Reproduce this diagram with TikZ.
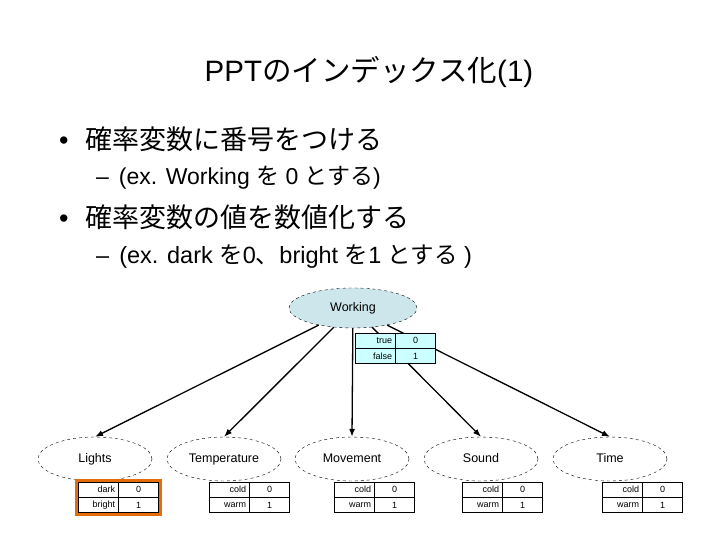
\documentclass[tikz,border=0pt]{standalone}
\usepackage{fontspec}
\setmainfont{Liberation Sans}
\newfontfamily\jpfont{Noto Sans CJK JP}
\usetikzlibrary{shapes.geometric,arrows.meta,positioning}

\definecolor{workfill}{RGB}{205,230,235}
\definecolor{cellfill}{RGB}{204,255,255}
\definecolor{markorange}{RGB}{228,108,10}

\tikzset{
  varnode/.style={ellipse,draw,dashed,fill=white,minimum width=114pt,minimum height=44pt,inner sep=0pt,text height=9pt,text depth=2.5pt,font=\fontsize{12.5}{14}\selectfont},
  namecell/.style={draw,fill=white,minimum width=40pt,minimum height=15pt,text width=34pt,align=right,inner sep=3pt,font=\fontsize{9}{10}\selectfont},
  valcell/.style={draw,fill=white,minimum width=40pt,minimum height=15pt,inner sep=0pt,font=\fontsize{9}{10}\selectfont},
  link/.style={line width=1.3pt,-{Latex[length=8pt,width=6pt]}}
}

\begin{document}
\begin{tikzpicture}[x=1pt,y=-1pt]
\useasboundingbox (0,0) rectangle (720,540);

% text of the slide
\node[anchor=base,inner sep=0pt,font=\fontsize{29.5}{34}\selectfont] (title) at (369,82) {PPT{\jpfont のインデックス化}(1)};
\node[anchor=base west,inner sep=0pt,font=\fontsize{27}{30}\selectfont] (item1) at (59,150) {\textbullet\hspace{17pt}{\jpfont 確率変数に番号をつける}};
\node[anchor=base west,inner sep=0pt,font=\fontsize{23}{25}\selectfont] (sub1) at (96,185) {--\hspace{10pt}(ex. Working {\jpfont を} 0 {\jpfont とする})};
\node[anchor=base west,inner sep=0pt,font=\fontsize{27}{30}\selectfont] (item2) at (59,227) {\textbullet\hspace{17pt}{\jpfont 確率変数の値を数値化する}};
\node[anchor=base west,inner sep=0pt,font=\fontsize{23.5}{25}\selectfont] (sub2) at (96,263) {--\hspace{10pt}(ex. dark {\jpfont を}0{\jpfont 、}bright {\jpfont を}1 {\jpfont とする} )};

% the network
\node[varnode,fill=workfill,minimum width=128pt,minimum height=40pt] (working) at (353,308) {Working};

\foreach \nm/\lbl/\cx in {lights/Lights/95,temperature/Temperature/224,movement/Movement/352,sound/Sound/481,time/Time/610}
{
  \node[varnode] (\nm) at (\cx,459) {\lbl};
  \draw[link] (working) -- (\nm.north);
}

% value tables
\node[namecell,fill=cellfill,anchor=north west] (work-a) at (355,333) {true};
\node[valcell,fill=cellfill,right=0pt of work-a] (work-a0) {0};
\node[namecell,fill=cellfill,below=0pt of work-a] (work-b) {false};
\node[valcell,fill=cellfill,right=0pt of work-b] (work-b0) {1};

\foreach \nm/\tx/\va/\vb in {lights/78/dark/bright,temperature/209/cold/warm,movement/334/cold/warm,sound/462/cold/warm,time/602/cold/warm}
{
  \node[namecell,anchor=north west] (\nm-a) at (\tx,482) {\va};
  \node[valcell,right=0pt of \nm-a] (\nm-a0) {0};
  \node[namecell,below=0pt of \nm-a] (\nm-b) {\vb};
  \node[valcell,right=0pt of \nm-b] (\nm-b0) {1};
}

\draw[markorange,line width=3pt] ([xshift=-1.5pt,yshift=1.5pt]lights-a.north west) rectangle ([xshift=1.5pt,yshift=-1.5pt]lights-b0.south east);
\end{tikzpicture}
\end{document}
